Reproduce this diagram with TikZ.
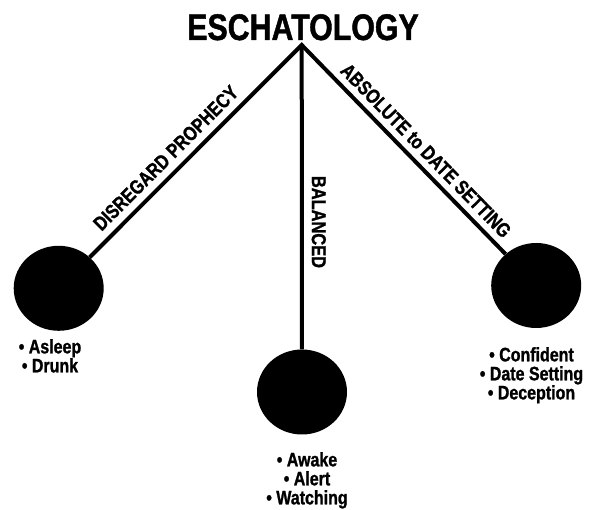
\documentclass[tikz,border=0pt]{standalone}
\usepackage{fontspec}
\setmainfont{Liberation Sans}
\newfontfamily\nb{Liberation Sans}[FakeStretch=0.82,FakeBold=1.2]
\usetikzlibrary{shapes.geometric}
\begin{document}
\begin{tikzpicture}[x=1pt,y=-1pt,
  dot/.style={ellipse, fill=black, draw=none, minimum width=90pt, minimum height=85pt, inner sep=0pt},
  conn/.style={line width=4pt, line join=miter},
  lbl/.style={font=\nb\bfseries\fontsize{20}{20}\selectfont, inner sep=0pt, anchor=south},
  bullets/.style={font=\nb\bfseries\fontsize{19.5}{19}\selectfont, align=center, inner sep=0pt, anchor=north}]
\useasboundingbox[fill=white] (0,0) rectangle (592,510);
\node[font=\nb\bfseries\fontsize{37}{37}\selectfont, inner sep=0pt, anchor=base] (title) at (303,40) {ESCHATOLOGY};
\coordinate (apex) at (301.7,45);
\node[dot] (L) at (58.7,288.3) {};
\node[dot] (M) at (302,392) {};
\node[dot] (R) at (536.2,285.5) {};
\draw[conn] (L) -- (apex) -- (R);
\draw[conn] (apex) -- (M);
\node[lbl, rotate=45] (lblL) at (170.9,163.1) {DISREGARD PROPHECY};
\node[lbl, rotate=-45.7] (lblR) at (420.8,155.7) {ABSOLUTE to DATE SETTING};
\node[lbl, rotate=-90] (lblM) at (311.5,222) {BALANCED};
\node[bullets] (bL) at (50,339) {• Asleep\\• Drunk};
\node[bullets] (bM) at (307,452) {• Awake\\• Alert\\• Watching};
\node[bullets] (bR) at (531.5,347) {• Confident\\• Date Setting\\• Deception};
\end{tikzpicture}
\end{document}
